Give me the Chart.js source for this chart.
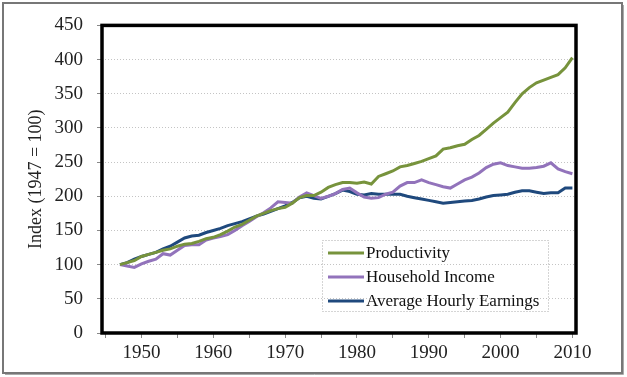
<!DOCTYPE html>
<html>
<head>
<meta charset="utf-8">
<script src="https://cdn.jsdelivr.net/npm/chart.js@4"></script>
<style>
  body { margin: 0; background: #fff; }
  #wrap { width: 627px; height: 377px; position: relative; }
</style>
</head>
<body>
<div id="wrap"><canvas id="line_canvas"></canvas></div>
<script>
// years shown on the chart, one point per year
var years = [];
for (var yr = 1947; yr <= 2010; yr++) years.push(yr);

var productivity = [100, 103, 106, 112, 115, 118, 121, 123, 127, 130,
    131, 134, 138, 140, 144, 149, 155, 159, 165, 171,
    175, 179, 182, 184, 190, 198, 201, 201, 206, 213,
    217, 220, 220, 219, 221, 218, 229, 233, 237, 243,
    245, 248, 251, 255, 259, 269, 271, 274, 276, 283,
    289, 298, 307, 315, 323, 337, 350, 359, 366, 370,
    374, 378, 388, 403];

var householdIncome = [100, 98, 96, 101, 105, 108, 116, 114, 121, 128,
    129, 129, 136, 139, 141, 144, 150, 157, 163, 170,
    176, 183, 192, 191, 190, 199, 205, 201, 197, 200,
    204, 210, 212, 205, 199, 197, 198, 203, 206, 215,
    220, 220, 224, 220, 217, 214, 212, 218, 224, 228,
    234, 242, 247, 249, 245, 243, 241, 241, 242, 244,
    249, 240, 236, 233];

var hourlyEarnings = [100, 103, 108, 112, 115, 118, 123, 127, 133, 139,
    142, 143, 147, 150, 153, 157, 160, 163, 167, 171,
    174, 178, 182, 186, 191, 198, 200, 197, 196, 200,
    204, 209, 207, 203, 202, 204, 203, 203, 203, 203,
    200, 198, 196, 194, 192, 190, 191, 192, 193, 194,
    196, 199, 201, 202, 203, 206, 208, 208, 206, 204,
    205, 205, 212, 212];

var xTickValues = [1945, 1950, 1955, 1960, 1965, 1970, 1975, 1980, 1985, 1990, 1995, 2000, 2005, 2010];
var xLabelValues = [1950, 1960, 1970, 1980, 1990, 2000, 2010];

function pairs(vals) {
    return years.map(function(y, i) { return {x: y, y: vals[i]}; });
}

var serif = "'Liberation Serif', 'Times New Roman', serif";

// frame, thick plot border and the boxed legend
var decor = {
    id: 'decor',
    beforeDraw: function(chart) {
        var ctx = chart.ctx;
        ctx.save();
        ctx.fillStyle = '#fff';
        ctx.fillRect(0, 0, chart.width, chart.height);
        ctx.restore();
    },
    afterDraw: function(chart) {
        var ctx = chart.ctx, a = chart.chartArea;
        ctx.save();
        // plot border
        ctx.strokeStyle = '#000';
        ctx.lineWidth = 3.5;
        ctx.strokeRect(a.left, a.top, a.right - a.left, a.bottom - a.top);
        // outer frame
        ctx.strokeStyle = '#777';
        ctx.lineWidth = 2;
        ctx.strokeRect(3, 3, 619, 370);
        ctx.strokeStyle = '#aaa';
        ctx.lineWidth = 1;
        ctx.beginPath();
        ctx.moveTo(623.5, 5); ctx.lineTo(623.5, 374.5); ctx.lineTo(5, 374.5);
        ctx.stroke();

        // legend
        ctx.strokeStyle = '#aaa';
        ctx.setLineDash([1, 2]);
        ctx.strokeRect(322.5, 240.5, 226, 71);
        ctx.setLineDash([]);
        ctx.font = '17px ' + serif;
        ctx.textBaseline = 'middle';
        ctx.fillStyle = '#111';
        var rows = [253, 277, 301];
        chart.data.datasets.forEach(function(ds, i) {
            ctx.strokeStyle = ds.borderColor;
            ctx.lineWidth = 3;
            ctx.beginPath();
            ctx.moveTo(328, rows[i]);
            ctx.lineTo(364, rows[i]);
            ctx.stroke();
            ctx.fillText(ds.label, 366, rows[i] + 1);
        });
        ctx.restore();
    }
};

var ctx = document.getElementById('line_canvas').getContext('2d');
var chart = new Chart(ctx, {
    type: 'line',
    data: {
        datasets: [{
            label: 'Productivity',
            data: pairs(productivity),
            borderColor: '#77933C',
            borderWidth: 3
        }, {
            label: 'Household Income',
            data: pairs(householdIncome),
            borderColor: '#9273BB',
            borderWidth: 3
        }, {
            label: 'Average Hourly Earnings',
            data: pairs(hourlyEarnings),
            borderColor: '#1F497D',
            borderWidth: 3
        }]
    },
    options: {
        responsive: true,
        maintainAspectRatio: false,
        animation: false,
        layout: { padding: { top: 21, right: 51, left: 0, bottom: 0 } },
        elements: { point: { radius: 0 }, line: { tension: 0 } },
        plugins: { legend: { display: false }, tooltip: { enabled: false } },
        scales: {
            x: {
                type: 'linear',
                min: 1944.5,
                max: 2010.5,
                afterBuildTicks: function(scale) {
                    scale.ticks = xTickValues.map(function(v) { return {value: v}; });
                },
                afterFit: function(scale) { scale.height = 44; },
                grid: { drawOnChartArea: false, drawTicks: true, tickLength: 5, tickColor: '#888' },
                border: { display: false },
                ticks: {
                    autoSkip: false,
                    maxRotation: 0,
                    padding: 4,
                    color: '#222',
                    font: { family: serif, size: 19 },
                    callback: function(v) { return xLabelValues.indexOf(v) >= 0 ? String(v) : ''; }
                }
            },
            y: {
                min: 0,
                max: 450,
                afterFit: function(scale) { scale.width = 102; },
                grid: { color: '#c4c4c4', tickLength: 5, tickColor: '#888' },
                border: { display: false, dash: [1, 2] },
                ticks: {
                    stepSize: 50,
                    padding: 14,
                    color: '#222',
                    font: { family: serif, size: 19 }
                },
                title: {
                    display: true,
                    text: 'Index (1947 = 100)',
                    color: '#222',
                    font: { family: serif, size: 18 },
                    padding: { top: 25, bottom: 0 }
                }
            }
        }
    },
    plugins: [decor]
});
</script>
</body>
</html>
